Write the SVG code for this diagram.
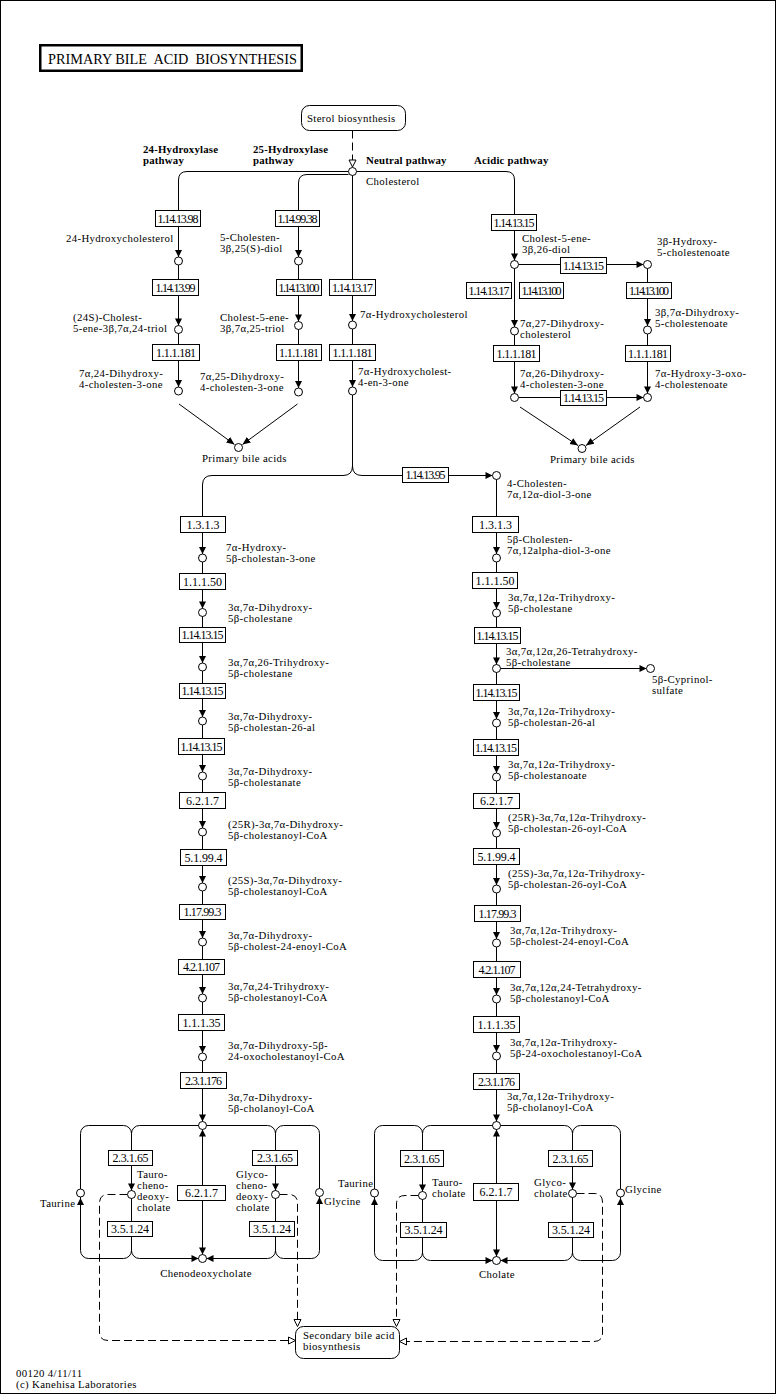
<svg xmlns="http://www.w3.org/2000/svg" width="776" height="1394" viewBox="0 0 776 1394">
<style>
.ln{fill:none;stroke:#000;stroke-width:1}
.dash{fill:none;stroke:#000;stroke-width:1;stroke-dasharray:8,4}
.box{fill:#fff;stroke:#000;stroke-width:1}
.cpd{fill:#fff;stroke:#000;stroke-width:1}
text{font-family:"Liberation Serif","Times New Roman",serif;font-size:10.8px;letter-spacing:0.35px;fill:#000}
.ec{text-anchor:middle;font-size:12px;letter-spacing:0}
.b{font-weight:bold;letter-spacing:0.2px}
.mid{text-anchor:middle}
</style>
<defs>
<path id="ad" d="M-3.5,-7H3.5L0,0Z" fill="#000"/>
<path id="au" d="M-3.5,7H3.5L0,0Z" fill="#000"/>
<path id="ar" d="M-7,-3.5V3.5L0,0Z" fill="#000"/>
<path id="al" d="M7,-3.5V3.5L0,0Z" fill="#000"/>
<path id="od" d="M-3.5,-7H3.5L0,0Z" fill="#fff" stroke="#000" stroke-width="1"/>
<path id="or" d="M-7,-3.5V3.5L0,0Z" fill="#fff" stroke="#000" stroke-width="1"/>
<path id="ol" d="M7,-3.5V3.5L0,0Z" fill="#fff" stroke="#000" stroke-width="1"/>
<marker id="mk" viewBox="0 0 8 8" refX="8" refY="4" markerWidth="8" markerHeight="8" markerUnits="userSpaceOnUse" orient="auto"><path d="M0,0.5L8,4L0,7.5Z" fill="#000"/></marker>
</defs>
<rect x="0" y="0" width="776" height="1394" fill="#fff"/>
<rect x="0.5" y="0.5" width="775" height="1393" fill="none" stroke="#000"/>

<g id="connectors">
<path class="dash" d="M352.5,130.5V160"/>
<path class="ln" d="M356.5,171.5H506Q514.5,171.5 514.5,180V397.5"/>
<path class="ln" d="M348.5,171.5H187Q178.5,171.5 178.5,180V391"/>
<path class="ln" d="M348.5,174.5H307Q298.5,174.5 298.5,183V392"/>
<path class="ln" d="M352.5,175V466Q352.5,475.5 343,475.5H212Q202.5,475.5 202.5,485V1125.5"/>
<path class="ln" d="M352.5,466Q352.5,475.5 362,475.5H492"/>
<path class="ln" d="M496.5,475.5V1125.5"/>
<path class="ln" d="M518.5,264.5H643"/>
<path class="ln" d="M647.5,264.5V397.5"/>
<path class="ln" d="M518.5,397.5H643"/>
<path class="ln" d="M500.5,668.5H646"/>
<path class="ln" d="M179,404L234.5,444.5" marker-end="url(#mk)"/>
<path class="ln" d="M297.5,404L242.5,444.5" marker-end="url(#mk)"/>
<path class="ln" d="M520,407L578,445.5" marker-end="url(#mk)"/>
<path class="ln" d="M640,407L586,445.5" marker-end="url(#mk)"/>
<rect class="ln" x="80.5" y="1125.5" width="51" height="133" rx="8"/>
<rect class="ln" x="131.5" y="1125.5" width="144" height="133" rx="8"/>
<rect class="ln" x="275.5" y="1125.5" width="44" height="133" rx="8"/>
<path class="ln" d="M202.5,1125.5V1258.5"/>
<rect class="ln" x="374.5" y="1125.5" width="48" height="135" rx="8"/>
<rect class="ln" x="422.5" y="1125.5" width="150" height="135" rx="8"/>
<rect class="ln" x="572.5" y="1125.5" width="48" height="135" rx="8"/>
<path class="ln" d="M496.5,1125.5V1260.5"/>
<path class="dash" d="M127.5,1194.5H108Q99.5,1194.5 99.5,1203V1332Q99.5,1340.5 108,1340.5H288"/>
<path class="dash" d="M279.5,1194.5H289Q297.5,1194.5 297.5,1203V1319"/>
<path class="dash" d="M418.5,1195.5H405Q396.5,1195.5 396.5,1204V1319"/>
<path class="dash" d="M576.5,1193.5H594Q602.5,1193.5 602.5,1202V1333Q602.5,1341.5 594,1341.5H406.5"/>
<use href="#od" x="352.5" y="167"/>
<use href="#or" x="295.5" y="1340.5"/>
<use href="#od" x="297.5" y="1326.5"/>
<use href="#od" x="396.5" y="1326.5"/>
<use href="#ol" x="399.5" y="1341.5"/>
<use href="#ad" x="178.5" y="257"/>
<use href="#ad" x="178.5" y="325.5"/>
<use href="#ad" x="178.5" y="387"/>
<use href="#ad" x="298.5" y="257"/>
<use href="#ad" x="298.5" y="321.5"/>
<use href="#ad" x="298.5" y="388"/>
<use href="#ad" x="352.5" y="321"/>
<use href="#ad" x="352.5" y="387"/>
<use href="#ad" x="514.5" y="260.5"/>
<use href="#ad" x="514.5" y="327"/>
<use href="#ad" x="514.5" y="393.5"/>
<use href="#ad" x="647.5" y="326"/>
<use href="#ad" x="647.5" y="393.5"/>
<use href="#ar" x="492.5" y="475.5"/>
<use href="#ar" x="643.5" y="264.5"/>
<use href="#ar" x="643.5" y="397.5"/>
<use href="#ar" x="646.5" y="668.5"/>
<use href="#ad" x="202.5" y="554"/>
<use href="#ad" x="202.5" y="608.5"/>
<use href="#ad" x="202.5" y="663"/>
<use href="#ad" x="202.5" y="717"/>
<use href="#ad" x="202.5" y="772"/>
<use href="#ad" x="202.5" y="828"/>
<use href="#ad" x="202.5" y="883"/>
<use href="#ad" x="202.5" y="938"/>
<use href="#ad" x="202.5" y="994"/>
<use href="#ad" x="202.5" y="1053"/>
<use href="#ad" x="202.5" y="1121.5"/>
<use href="#ad" x="202.5" y="1254.5"/>
<use href="#ad" x="496.5" y="554"/>
<use href="#ad" x="496.5" y="609"/>
<use href="#ad" x="496.5" y="664.5"/>
<use href="#ad" x="496.5" y="719"/>
<use href="#ad" x="496.5" y="773"/>
<use href="#ad" x="496.5" y="829"/>
<use href="#ad" x="496.5" y="885"/>
<use href="#ad" x="496.5" y="939"/>
<use href="#ad" x="496.5" y="995"/>
<use href="#ad" x="496.5" y="1052"/>
<use href="#ad" x="496.5" y="1121.5"/>
<use href="#ad" x="496.5" y="1256.5"/>
<use href="#au" x="202.5" y="1129.5"/>
<use href="#au" x="496.5" y="1129.5"/>
<use href="#au" x="80.5" y="1198"/>
<use href="#au" x="319.5" y="1197"/>
<use href="#au" x="374.5" y="1198"/>
<use href="#au" x="620.5" y="1198"/>
<use href="#ad" x="131.5" y="1190.5"/>
<use href="#ad" x="275.5" y="1190.5"/>
<use href="#ad" x="422.5" y="1191.5"/>
<use href="#ad" x="572.5" y="1189.5"/>
<use href="#ar" x="198.5" y="1258.5"/>
<use href="#al" x="206.5" y="1258.5"/>
<use href="#ar" x="492.5" y="1260.5"/>
<use href="#al" x="500.5" y="1260.5"/>
</g>

<g id="title"><rect x="40.25" y="45.25" width="261.5" height="25.5" fill="#fff" stroke="#000" stroke-width="2.5"/><text x="48" y="64" xml:space="preserve" textLength="249" lengthAdjust="spacingAndGlyphs" style="font-size:15px;letter-spacing:0">PRIMARY BILE  ACID  BIOSYNTHESIS</text></g>
<g id="sterol"><rect class="box" x="301.5" y="105.5" width="104" height="25" rx="8"/><text x="307" y="122">Sterol biosynthesis</text></g>
<g id="pathway-labels">
<text class="b" x="143" y="152.5">24-Hydroxylase<tspan x="143" dy="11">pathway</tspan></text>
<text class="b" x="253" y="152.5">25-Hydroxylase<tspan x="253" dy="11">pathway</tspan></text>
<text class="b" x="366" y="164">Neutral pathway</text>
<text class="b" x="474" y="164">Acidic pathway</text>
</g>

<g id="enzymes">
<g id="e_1_14_13_98"><rect class="box" x="155.5" y="210.5" width="45" height="16"/><text class="ec" x="178" y="223" textLength="41">1.14.13.98</text></g>
<g id="e_1_14_99_38"><rect class="box" x="275.5" y="210.5" width="44" height="16"/><text class="ec" x="297.5" y="223" textLength="40">1.14.99.38</text></g>
<g id="e_1_14_13_99"><rect class="box" x="152.5" y="279.5" width="46" height="16"/><text class="ec" x="175.5" y="292" textLength="40">1.14.13.99</text></g>
<g id="e_1_14_13_100a"><rect class="box" x="276.5" y="279.5" width="45" height="16"/><text class="ec" x="299" y="292" textLength="41">1.14.13.100</text></g>
<g id="e_1_14_13_17a"><rect class="box" x="329.5" y="279.5" width="46" height="16"/><text class="ec" x="352.5" y="292" textLength="41">1.14.13.17</text></g>
<g id="e_1_1_1_181a"><rect class="box" x="152.5" y="344.5" width="47" height="16"/><text class="ec" x="176" y="357" textLength="40">1.1.1.181</text></g>
<g id="e_1_1_1_181b"><rect class="box" x="276.5" y="344.5" width="45" height="16"/><text class="ec" x="299" y="357" textLength="40">1.1.1.181</text></g>
<g id="e_1_1_1_181c"><rect class="box" x="329.5" y="344.5" width="46" height="16"/><text class="ec" x="352.5" y="357" textLength="40">1.1.1.181</text></g>
<g id="e_1_14_13_15a"><rect class="box" x="491.5" y="214.5" width="45" height="16"/><text class="ec" x="514" y="227" textLength="41">1.14.13.15</text></g>
<g id="e_1_14_13_15b"><rect class="box" x="560.5" y="257.5" width="46" height="16"/><text class="ec" x="583.5" y="270" textLength="41">1.14.13.15</text></g>
<g id="e_1_14_13_17b"><rect class="box" x="466.5" y="282.5" width="45" height="16"/><text class="ec" x="489" y="295" textLength="41">1.14.13.17</text></g>
<g id="e_1_14_13_100b"><rect class="box" x="519.5" y="282.5" width="44" height="16"/><text class="ec" x="541.5" y="295" textLength="40">1.14.13.100</text></g>
<g id="e_1_14_13_100c"><rect class="box" x="626.5" y="282.5" width="45" height="16"/><text class="ec" x="649" y="295" textLength="40">1.14.13.100</text></g>
<g id="e_1_1_1_181d"><rect class="box" x="493.5" y="345.5" width="46" height="16"/><text class="ec" x="516.5" y="358" textLength="40">1.1.1.181</text></g>
<g id="e_1_1_1_181e"><rect class="box" x="625.5" y="345.5" width="45" height="16"/><text class="ec" x="648" y="358" textLength="40">1.1.1.181</text></g>
<g id="e_1_14_13_15c"><rect class="box" x="560.5" y="390.5" width="46" height="15"/><text class="ec" x="583.5" y="402" textLength="41">1.14.13.15</text></g>
<g id="e_1_14_13_95"><rect class="box" x="402.5" y="467.5" width="46" height="15"/><text class="ec" x="425.5" y="479" textLength="40">1.14.13.95</text></g>

<g id="e_L_1_3_1_3"><rect class="box" x="180.5" y="516.5" width="45" height="16"/><text class="ec" x="203" y="529">1.3.1.3</text></g>
<g id="e_L_1_1_1_50"><rect class="box" x="179.5" y="573.5" width="46" height="16"/><text class="ec" x="202.5" y="586">1.1.1.50</text></g>
<g id="e_L_1_14_13_15a"><rect class="box" x="179.5" y="627.5" width="46" height="15"/><text class="ec" x="202.5" y="639" textLength="42">1.14.13.15</text></g>
<g id="e_L_1_14_13_15b"><rect class="box" x="179.5" y="683.5" width="46" height="15"/><text class="ec" x="202.5" y="695" textLength="42">1.14.13.15</text></g>
<g id="e_L_1_14_13_15c"><rect class="box" x="178.5" y="738.5" width="46" height="16"/><text class="ec" x="201.5" y="751" textLength="42">1.14.13.15</text></g>
<g id="e_L_6_2_1_7"><rect class="box" x="179.5" y="792.5" width="46" height="16"/><text class="ec" x="202.5" y="805">6.2.1.7</text></g>
<g id="e_L_5_1_99_4"><rect class="box" x="180.5" y="849.5" width="46" height="16"/><text class="ec" x="203.5" y="862" textLength="38">5.1.99.4</text></g>
<g id="e_L_1_17_99_3"><rect class="box" x="179.5" y="904.5" width="46" height="15"/><text class="ec" x="202.5" y="916" textLength="38">1.17.99.3</text></g>
<g id="e_L_4_2_1_107"><rect class="box" x="178.5" y="959.5" width="46" height="15"/><text class="ec" x="201.5" y="971" textLength="37">4.2.1.107</text></g>
<g id="e_L_1_1_1_35"><rect class="box" x="178.5" y="1014.5" width="46" height="16"/><text class="ec" x="201.5" y="1027" textLength="38">1.1.1.35</text></g>
<g id="e_L_2_3_1_176"><rect class="box" x="180.5" y="1072.5" width="46" height="16"/><text class="ec" x="203.5" y="1085" textLength="37">2.3.1.176</text></g>

<g id="e_R_1_3_1_3"><rect class="box" x="472.5" y="516.5" width="46" height="16"/><text class="ec" x="495.5" y="529">1.3.1.3</text></g>
<g id="e_R_1_1_1_50"><rect class="box" x="472.5" y="572.5" width="45" height="16"/><text class="ec" x="495" y="585">1.1.1.50</text></g>
<g id="e_R_1_14_13_15a"><rect class="box" x="474.5" y="627.5" width="46" height="16"/><text class="ec" x="497.5" y="640" textLength="42">1.14.13.15</text></g>
<g id="e_R_1_14_13_15b"><rect class="box" x="473.5" y="684.5" width="46" height="16"/><text class="ec" x="496.5" y="697" textLength="42">1.14.13.15</text></g>
<g id="e_R_1_14_13_15c"><rect class="box" x="473.5" y="739.5" width="45" height="16"/><text class="ec" x="496" y="752" textLength="42">1.14.13.15</text></g>
<g id="e_R_6_2_1_7"><rect class="box" x="473.5" y="793.5" width="46" height="15"/><text class="ec" x="496.5" y="805">6.2.1.7</text></g>
<g id="e_R_5_1_99_4"><rect class="box" x="473.5" y="848.5" width="46" height="16"/><text class="ec" x="496.5" y="861" textLength="38">5.1.99.4</text></g>
<g id="e_R_1_17_99_3"><rect class="box" x="474.5" y="905.5" width="46" height="16"/><text class="ec" x="497.5" y="918" textLength="38">1.17.99.3</text></g>
<g id="e_R_4_2_1_107"><rect class="box" x="473.5" y="961.5" width="47" height="16"/><text class="ec" x="497" y="974" textLength="37">4.2.1.107</text></g>
<g id="e_R_1_1_1_35"><rect class="box" x="473.5" y="1016.5" width="46" height="16"/><text class="ec" x="496.5" y="1029" textLength="38">1.1.1.35</text></g>
<g id="e_R_2_3_1_176"><rect class="box" x="473.5" y="1073.5" width="46" height="16"/><text class="ec" x="496.5" y="1086" textLength="37">2.3.1.176</text></g>

<g id="e_BL_2_3_1_65a"><rect class="box" x="108.5" y="1150.5" width="44" height="15"/><text class="ec" x="130.5" y="1162" textLength="36">2.3.1.65</text></g>
<g id="e_BL_3_5_1_24a"><rect class="box" x="107.5" y="1221.5" width="45" height="15"/><text class="ec" x="130" y="1233" textLength="38">3.5.1.24</text></g>
<g id="e_BL_6_2_1_7"><rect class="box" x="177.5" y="1185.5" width="48" height="15"/><text class="ec" x="201.5" y="1197">6.2.1.7</text></g>
<g id="e_BL_2_3_1_65b"><rect class="box" x="252.5" y="1150.5" width="45" height="15"/><text class="ec" x="275" y="1162" textLength="36">2.3.1.65</text></g>
<g id="e_BL_3_5_1_24b"><rect class="box" x="249.5" y="1221.5" width="45" height="15"/><text class="ec" x="272" y="1233" textLength="38">3.5.1.24</text></g>
<g id="e_BR_2_3_1_65a"><rect class="box" x="400.5" y="1150.5" width="43" height="16"/><text class="ec" x="422" y="1163" textLength="36">2.3.1.65</text></g>
<g id="e_BR_3_5_1_24a"><rect class="box" x="400.5" y="1222.5" width="46" height="15"/><text class="ec" x="423.5" y="1234" textLength="38">3.5.1.24</text></g>
<g id="e_BR_6_2_1_7"><rect class="box" x="473.5" y="1183.5" width="45" height="17"/><text class="ec" x="496" y="1196">6.2.1.7</text></g>
<g id="e_BR_2_3_1_65b"><rect class="box" x="548.5" y="1150.5" width="44" height="16"/><text class="ec" x="570.5" y="1163" textLength="36">2.3.1.65</text></g>
<g id="e_BR_3_5_1_24b"><rect class="box" x="548.5" y="1222.5" width="45" height="15"/><text class="ec" x="571" y="1234" textLength="38">3.5.1.24</text></g>
</g>

<g id="compounds">
<g id="c_cholesterol"><circle class="cpd" cx="352.5" cy="171.5" r="4"/><text x="366" y="185">Cholesterol</text></g>
<g id="c_24hc"><circle class="cpd" cx="178.5" cy="261" r="4"/><text x="66" y="242">24-Hydroxycholesterol</text></g>
<g id="c_24triol"><circle class="cpd" cx="178.5" cy="329.5" r="4"/><text x="73" y="320.5">(24S)-Cholest-<tspan x="73" dy="11">5-ene-3β,7α,24-triol</tspan></text></g>
<g id="c_7a24"><circle class="cpd" cx="178.5" cy="391" r="4"/><text x="79" y="376.5">7α,24-Dihydroxy-<tspan x="79" dy="11">4-cholesten-3-one</tspan></text></g>
<g id="c_25diol"><circle class="cpd" cx="298.5" cy="261" r="4"/><text x="220" y="240.5">5-Cholesten-<tspan x="220" dy="11">3β,25(S)-diol</tspan></text></g>
<g id="c_25triol"><circle class="cpd" cx="298.5" cy="325.5" r="4"/><text x="220" y="320.5">Cholest-5-ene-<tspan x="220" dy="11">3β,7α,25-triol</tspan></text></g>
<g id="c_7a25"><circle class="cpd" cx="298.5" cy="392" r="4"/><text x="200" y="379.5">7α,25-Dihydroxy-<tspan x="200" dy="11">4-cholesten-3-one</tspan></text></g>
<g id="c_pba1"><circle class="cpd" cx="238.5" cy="447.5" r="4"/><text x="202" y="462">Primary bile acids</text></g>
<g id="c_7ahc"><circle class="cpd" cx="352.5" cy="325" r="4"/><text x="360" y="318">7α-Hydroxycholesterol</text></g>
<g id="c_7ahc4"><circle class="cpd" cx="352.5" cy="391" r="4"/><text x="358" y="374.5">7α-Hydroxycholest-<tspan x="358" dy="11">4-en-3-one</tspan></text></g>
<g id="c_26diol"><circle class="cpd" cx="514.5" cy="264.5" r="4"/><text x="522" y="241.5">Cholest-5-ene-<tspan x="522" dy="11">3β,26-diol</tspan></text></g>
<g id="c_3bhc"><circle class="cpd" cx="647.5" cy="264.5" r="4"/><text x="657" y="244.5">3β-Hydroxy-<tspan x="657" dy="11">5-cholestenoate</tspan></text></g>
<g id="c_727"><circle class="cpd" cx="514.5" cy="331" r="4"/><text x="520" y="326.5">7α,27-Dihydroxy-<tspan x="520" dy="11">cholesterol</tspan></text></g>
<g id="c_37dh"><circle class="cpd" cx="647.5" cy="330" r="4"/><text x="655" y="315.5">3β,7α-Dihydroxy-<tspan x="655" dy="11">5-cholestenoate</tspan></text></g>
<g id="c_726"><circle class="cpd" cx="514.5" cy="397.5" r="4"/><text x="520" y="376.5">7α,26-Dihydroxy-<tspan x="520" dy="11">4-cholesten-3-one</tspan></text></g>
<g id="c_7h3o"><circle class="cpd" cx="647.5" cy="397.5" r="4"/><text x="655" y="376.5">7α-Hydroxy-3-oxo-<tspan x="655" dy="11">4-cholestenoate</tspan></text></g>
<g id="c_pba2"><circle class="cpd" cx="582" cy="448.5" r="4"/><text x="550" y="463">Primary bile acids</text></g>
<g id="c_4chol"><circle class="cpd" cx="496.5" cy="475.5" r="4"/><text x="507" y="486.5">4-Cholesten-<tspan x="507" dy="11">7α,12α-diol-3-one</tspan></text></g>

<g id="c_L1"><circle class="cpd" cx="202.5" cy="558" r="4"/><text x="226" y="550.5">7α-Hydroxy-<tspan x="226" dy="11">5β-cholestan-3-one</tspan></text></g>
<g id="c_L2"><circle class="cpd" cx="202.5" cy="612.5" r="4"/><text x="228" y="610.5">3α,7α-Dihydroxy-<tspan x="228" dy="11">5β-cholestane</tspan></text></g>
<g id="c_L3"><circle class="cpd" cx="202.5" cy="667" r="4"/><text x="228" y="665.5">3α,7α,26-Trihydroxy-<tspan x="228" dy="11">5β-cholestane</tspan></text></g>
<g id="c_L4"><circle class="cpd" cx="202.5" cy="721" r="4"/><text x="228" y="719.5">3α,7α-Dihydroxy-<tspan x="228" dy="11">5β-cholestan-26-al</tspan></text></g>
<g id="c_L5"><circle class="cpd" cx="202.5" cy="776" r="4"/><text x="228" y="774.5">3α,7α-Dihydroxy-<tspan x="228" dy="11">5β-cholestanate</tspan></text></g>
<g id="c_L6"><circle class="cpd" cx="202.5" cy="832" r="4"/><text x="228" y="827.5">(25R)-3α,7α-Dihydroxy-<tspan x="228" dy="11">5β-cholestanoyl-CoA</tspan></text></g>
<g id="c_L7"><circle class="cpd" cx="202.5" cy="887" r="4"/><text x="228" y="883.5">(25S)-3α,7α-Dihydroxy-<tspan x="228" dy="11">5β-cholestanoyl-CoA</tspan></text></g>
<g id="c_L8"><circle class="cpd" cx="202.5" cy="942" r="4"/><text x="228" y="938.5">3α,7α-Dihydroxy-<tspan x="228" dy="11">5β-cholest-24-enoyl-CoA</tspan></text></g>
<g id="c_L9"><circle class="cpd" cx="202.5" cy="998" r="4"/><text x="228" y="989.5">3α,7α,24-Trihydroxy-<tspan x="228" dy="11">5β-cholestanoyl-CoA</tspan></text></g>
<g id="c_L10"><circle class="cpd" cx="202.5" cy="1057" r="4"/><text x="228" y="1048.5">3α,7α-Dihydroxy-5β-<tspan x="228" dy="11">24-oxocholestanoyl-CoA</tspan></text></g>
<g id="c_L11"><circle class="cpd" cx="202.5" cy="1125.5" r="4"/><text x="228" y="1100.5">3α,7α-Dihydroxy-<tspan x="228" dy="11">5β-cholanoyl-CoA</tspan></text></g>

<g id="c_R1"><circle class="cpd" cx="496.5" cy="558" r="4"/><text x="507" y="542.5">5β-Cholesten-<tspan x="507" dy="11">7α,12alpha-diol-3-one</tspan></text></g>
<g id="c_R2"><circle class="cpd" cx="496.5" cy="613" r="4"/><text x="508" y="600.5">3α,7α,12α-Trihydroxy-<tspan x="508" dy="11">5β-cholestane</tspan></text></g>
<g id="c_R3"><circle class="cpd" cx="496.5" cy="668.5" r="4"/><text x="506" y="654.5">3α,7α,12α,26-Tetrahydroxy-<tspan x="506" dy="11">5β-cholestane</tspan></text></g>
<g id="c_R4"><circle class="cpd" cx="496.5" cy="723" r="4"/><text x="508" y="714.5">3α,7α,12α-Trihydroxy-<tspan x="508" dy="11">5β-cholestan-26-al</tspan></text></g>
<g id="c_R5"><circle class="cpd" cx="496.5" cy="777" r="4"/><text x="508" y="767.5">3α,7α,12α-Trihydroxy-<tspan x="508" dy="11">5β-cholestanoate</tspan></text></g>
<g id="c_R6"><circle class="cpd" cx="496.5" cy="833" r="4"/><text x="508" y="820.5">(25R)-3α,7α,12α-Trihydroxy-<tspan x="508" dy="11">5β-cholestan-26-oyl-CoA</tspan></text></g>
<g id="c_R7"><circle class="cpd" cx="496.5" cy="889" r="4"/><text x="508" y="876.5">(25S)-3α,7α,12α-Trihydroxy-<tspan x="508" dy="11">5β-cholestan-26-oyl-CoA</tspan></text></g>
<g id="c_R8"><circle class="cpd" cx="496.5" cy="943" r="4"/><text x="510" y="933.5">3α,7α,12α-Trihydroxy-<tspan x="510" dy="11">5β-cholest-24-enoyl-CoA</tspan></text></g>
<g id="c_R9"><circle class="cpd" cx="496.5" cy="999" r="4"/><text x="510" y="990.5">3α,7α,12α,24-Tetrahydroxy-<tspan x="510" dy="11">5β-cholestanoyl-CoA</tspan></text></g>
<g id="c_R10"><circle class="cpd" cx="496.5" cy="1056" r="4"/><text x="510" y="1045.5">3α,7α,12α-Trihydroxy-<tspan x="510" dy="11">5β-24-oxocholestanoyl-CoA</tspan></text></g>
<g id="c_R11"><circle class="cpd" cx="496.5" cy="1125.5" r="4"/><text x="507" y="1099.5">3α,7α,12α-Trihydroxy-<tspan x="507" dy="11">5β-cholanoyl-CoA</tspan></text></g>
<g id="c_cyprinol"><circle class="cpd" cx="650.5" cy="668.5" r="4"/><text x="652" y="682.5">5β-Cyprinol-<tspan x="652" dy="11">sulfate</tspan></text></g>

<g id="c_taurineL"><circle class="cpd" cx="80.5" cy="1193" r="4"/><text x="40" y="1207">Taurine</text></g>
<g id="c_tcdca"><circle class="cpd" cx="131.5" cy="1194.5" r="4"/><text x="137" y="1178">Tauro-<tspan x="137" dy="11">cheno-</tspan><tspan x="137" dy="11">deoxy-</tspan><tspan x="137" dy="11">cholate</tspan></text></g>
<g id="c_gcdca"><circle class="cpd" cx="275.5" cy="1194.5" r="4"/><text x="236" y="1178">Glyco-<tspan x="236" dy="11">cheno-</tspan><tspan x="236" dy="11">deoxy-</tspan><tspan x="236" dy="11">cholate</tspan></text></g>
<g id="c_glycineL"><circle class="cpd" cx="319.5" cy="1192.5" r="4"/><text x="324" y="1205">Glycine</text></g>
<g id="c_cdca"><circle class="cpd" cx="202.5" cy="1258.5" r="4"/><text class="mid" x="206" y="1277">Chenodeoxycholate</text></g>
<g id="c_taurineR"><circle class="cpd" cx="374.5" cy="1193" r="4"/><text x="338" y="1187">Taurine</text></g>
<g id="c_tca"><circle class="cpd" cx="422.5" cy="1195.5" r="4"/><text x="432" y="1186">Tauro-<tspan x="432" dy="11">cholate</tspan></text></g>
<g id="c_gca"><circle class="cpd" cx="572.5" cy="1193.5" r="4"/><text x="534" y="1186">Glyco-<tspan x="534" dy="11">cholate</tspan></text></g>
<g id="c_glycineR"><circle class="cpd" cx="620.5" cy="1193" r="4"/><text x="625" y="1193">Glycine</text></g>
<g id="c_cholate"><circle class="cpd" cx="496.5" cy="1260.5" r="4"/><text class="mid" x="497" y="1278">Cholate</text></g>
</g>

<g id="secondary"><rect class="box" x="295.5" y="1326.5" width="104" height="32" rx="8"/><text x="303" y="1339">Secondary bile acid<tspan x="303" dy="11">biosynthesis</tspan></text></g>
<g id="footer"><text x="16" y="1377">00120 4/11/11<tspan x="16" dy="11">(c) Kanehisa Laboratories</tspan></text></g>
</svg>
